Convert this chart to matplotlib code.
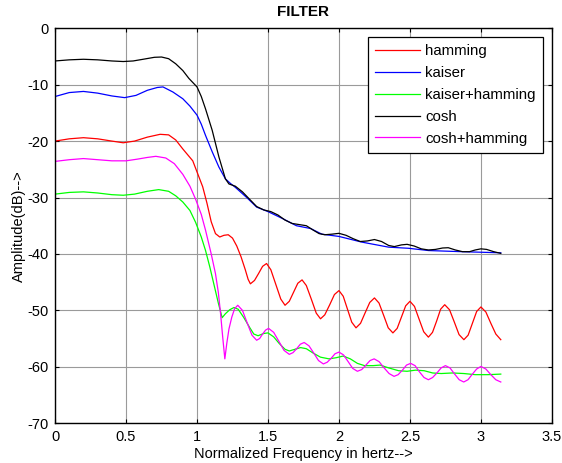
#!/usr/bin/env python3
"""Recreates the FILTER magnitude-response plot (MATLAB style) as out.png."""
import matplotlib
matplotlib.use("Agg")
import matplotlib.pyplot as plt

plt.rcParams["font.family"] = ["Liberation Sans", "DejaVu Sans"]
plt.rcParams["font.size"] = 10.5

# --- values ------------------------------------------------------------------
hamming_x = [0, 0.1, 0.2, 0.3, 0.4, 0.48, 0.56, 0.65, 0.74, 0.8, 0.85, 0.9, 0.97,
             1.04, 1.07, 1.1, 1.13, 1.16, 1.19, 1.22, 1.25, 1.28, 1.31, 1.34, 1.36,
             1.376, 1.405, 1.433, 1.462, 1.49, 1.52, 1.555, 1.59, 1.62, 1.65, 1.68,
             1.71, 1.74, 1.77, 1.805, 1.84, 1.87, 1.9, 1.935, 1.968, 2.0, 2.03, 2.06,
             2.09, 2.12, 2.152, 2.185, 2.217, 2.25, 2.282, 2.315, 2.347, 2.38, 2.41,
             2.44, 2.47, 2.5, 2.532, 2.565, 2.597, 2.63, 2.659, 2.688, 2.716, 2.745,
             2.779, 2.813, 2.846, 2.88, 2.91, 2.94, 2.97, 3.0, 3.035, 3.07, 3.105, 3.14]
hamming_db = [-20.0, -19.6, -19.4, -19.6, -20.0, -20.3, -20.0, -19.3, -18.8, -18.9,
              -19.8, -21.4, -23.5, -28.1, -31.0, -34.3, -36.4, -37.0, -36.7, -36.6,
              -37.2, -38.6, -40.5, -42.8, -44.5, -45.3, -44.7, -43.5, -42.2, -41.7,
              -42.8, -45.4, -48.0, -49.1, -48.4, -46.8, -45.2, -44.6, -45.6, -48.0,
              -50.5, -51.5, -50.8, -49.0, -47.2, -46.5, -47.5, -49.8, -52.1, -53.1,
              -52.3, -50.4, -48.6, -47.8, -48.7, -50.9, -53.1, -54.0, -53.2, -51.2,
              -49.2, -48.4, -49.3, -51.6, -53.8, -54.75, -53.9, -51.9, -49.8, -49.0,
              -49.9, -52.1, -54.3, -55.2, -54.4, -52.3, -50.2, -49.4, -50.3, -52.3,
              -54.2, -55.2]

kaiser_x = [0, 0.1, 0.2, 0.3, 0.4, 0.49, 0.57, 0.65, 0.72, 0.76, 0.83, 0.9, 0.95,
            1.0, 1.03, 1.06, 1.107, 1.154, 1.2, 1.235, 1.27, 1.35, 1.42, 1.5, 1.6,
            1.7, 1.8, 1.88, 2.0, 2.16, 2.35, 2.49, 2.63, 2.86, 3.0, 3.14]
kaiser_db = [-12.1, -11.4, -11.2, -11.5, -12.0, -12.3, -11.9, -11.0, -10.5, -10.4,
             -11.3, -12.5, -13.8, -15.4, -17.0, -19.0, -21.9, -24.6, -26.7, -27.5,
             -28.2, -30.0, -31.7, -32.5, -33.7, -35.0, -35.5, -36.5, -36.9, -37.9,
             -38.8, -39.0, -39.4, -39.6, -39.7, -39.8]

kaiser_hamming_x = [0, 0.1, 0.2, 0.3, 0.4, 0.48, 0.56, 0.65, 0.73, 0.8, 0.85, 0.9,
                    0.95, 0.99, 1.03, 1.06, 1.09, 1.12, 1.15, 1.177, 1.2, 1.23,
                    1.26, 1.29, 1.33, 1.37, 1.4, 1.43, 1.47, 1.5, 1.54, 1.58, 1.62,
                    1.65, 1.69, 1.73, 1.77, 1.82, 1.87, 1.93, 1.98, 2.03, 2.08, 2.13,
                    2.18, 2.24, 2.29, 2.35, 2.42, 2.48, 2.54, 2.6, 2.66, 2.72, 2.8,
                    2.88, 2.96, 3.05, 3.14]
kaiser_hamming_db = [-29.4, -29.1, -29.0, -29.2, -29.5, -29.6, -29.4, -28.9, -28.6,
                     -28.9, -29.7, -30.8, -32.3, -34.4, -37.0, -39.4, -42.3, -45.5,
                     -48.7, -51.3, -50.6, -49.9, -49.5, -49.8, -51.3, -53.0, -54.2,
                     -54.5, -54.1, -54.0, -54.7, -55.9, -56.9, -57.2, -56.9, -56.6,
                     -56.8, -57.6, -58.3, -58.6, -58.4, -58.1, -58.6, -59.4, -59.8,
                     -59.8, -59.7, -60.2, -60.7, -60.8, -60.6, -60.7, -61.1, -61.2,
                     -61.1, -61.2, -61.4, -61.4, -61.3]

cosh_x = [0, 0.1, 0.2, 0.3, 0.4, 0.48, 0.55, 0.62, 0.7, 0.75, 0.8, 0.85, 0.9, 0.943,
          1.0, 1.03, 1.06, 1.107, 1.154, 1.2, 1.225, 1.27, 1.32, 1.37, 1.42, 1.47,
          1.52, 1.57, 1.62, 1.67, 1.72, 1.77, 1.82, 1.86, 1.9, 1.95, 2.0, 2.05, 2.1,
          2.15, 2.2, 2.25, 2.3, 2.35, 2.39, 2.44, 2.48, 2.53, 2.58, 2.63, 2.68, 2.73,
          2.77, 2.82, 2.87, 2.92, 2.96, 3.0, 3.04, 3.09, 3.14]
cosh_db = [-5.8, -5.6, -5.5, -5.6, -5.8, -5.9, -5.8, -5.5, -5.15, -5.1, -5.4, -6.3,
           -7.5, -8.9, -10.4, -12.1, -14.3, -18.1, -22.8, -26.7, -27.6, -28.0, -29.0,
           -30.3, -31.6, -32.2, -32.5, -33.1, -34.0, -34.6, -34.8, -35.0, -35.8,
           -36.4, -36.6, -36.5, -36.35, -36.7, -37.3, -37.8, -37.7, -37.45, -37.8,
           -38.5, -38.7, -38.4, -38.3, -38.6, -39.1, -39.3, -39.2, -38.95, -38.9,
           -39.3, -39.6, -39.6, -39.3, -39.1, -39.2, -39.6, -39.9]

cosh_hamming_x = [0, 0.1, 0.2, 0.3, 0.4, 0.5, 0.58, 0.65, 0.71, 0.78, 0.84, 0.9,
                  0.95, 0.99, 1.03, 1.06, 1.1, 1.13, 1.15, 1.166, 1.18, 1.196, 1.21,
                  1.225, 1.245, 1.265, 1.287, 1.32, 1.353, 1.387, 1.42, 1.441, 1.462,
                  1.483, 1.504, 1.54, 1.577, 1.613, 1.65, 1.676, 1.702, 1.728, 1.755,
                  1.789, 1.823, 1.856, 1.89, 1.917, 1.945, 1.972, 2.0, 2.032, 2.065,
                  2.097, 2.13, 2.16, 2.19, 2.219, 2.248, 2.283, 2.318, 2.353, 2.388,
                  2.417, 2.447, 2.476, 2.505, 2.536, 2.567, 2.599, 2.63, 2.66, 2.69,
                  2.72, 2.75, 2.782, 2.815, 2.847, 2.879, 2.909, 2.94, 2.97, 3.0,
                  3.035, 3.07, 3.105, 3.14]
cosh_hamming_db = [-23.6, -23.3, -23.1, -23.3, -23.5, -23.5, -23.2, -22.9, -22.7,
                   -23.0, -24.0, -25.9, -28.0, -30.3, -33.0, -35.8, -40.0, -43.5,
                   -46.8, -50.6, -54.5, -58.6, -55.8, -53.3, -51.2, -49.7, -49.1,
                   -50.0, -52.2, -54.4, -55.3, -55.0, -54.2, -53.5, -53.2, -53.9,
                   -55.5, -57.1, -57.8, -57.5, -56.8, -56.0, -55.7, -56.3, -57.6,
                   -58.9, -59.5, -59.2, -58.5, -57.7, -57.4, -57.9, -59.1, -60.3,
                   -60.8, -60.5, -59.7, -58.9, -58.6, -59.1, -60.2, -61.2, -61.7,
                   -61.4, -60.6, -59.7, -59.4, -59.8, -60.9, -61.9, -62.3, -61.9,
                   -61.1, -60.2, -59.8, -60.2, -61.3, -62.3, -62.7, -62.3, -61.3,
                   -60.4, -59.95, -60.4, -61.4, -62.3, -62.7]

series = [
    ("hamming", hamming_x, hamming_db, "#ff0000"),
    ("kaiser", kaiser_x, kaiser_db, "#0000ff"),
    ("kaiser+hamming", kaiser_hamming_x, kaiser_hamming_db, "#00ff00"),
    ("cosh", cosh_x, cosh_db, "#000000"),
    ("cosh+hamming", cosh_hamming_x, cosh_hamming_db, "#ff00ff"),
]

x_ticks = [0, 0.5, 1, 1.5, 2, 2.5, 3, 3.5]
x_tick_labels = ["0", "0.5", "1", "1.5", "2", "2.5", "3", "3.5"]
y_ticks = [-70, -60, -50, -40, -30, -20, -10, 0]
y_tick_labels = ["-70", "-60", "-50", "-40", "-30", "-20", "-10", "0"]


def main() -> None:
    fig = plt.figure(figsize=(5.62, 4.63), dpi=100)
    ax = fig.add_axes([0.098, 0.086, 0.884, 0.853])

    for label, xs, ys, color in series:
        ax.plot(xs, ys, color=color, linewidth=0.9, label=label)

    ax.set_xlim(0, 3.5)
    ax.set_ylim(-70, 0)
    ax.set_xticks(x_ticks)
    ax.set_xticklabels(x_tick_labels)
    ax.set_yticks(y_ticks)
    ax.set_yticklabels(y_tick_labels)
    ax.tick_params(direction="in", top=True, right=True, length=3, width=0.8,
                   labelsize=10.5, pad=5)
    ax.grid(True, color="#9a9a9a", linestyle="-", linewidth=0.8)
    ax.set_axisbelow(True)
    for spine in ax.spines.values():
        spine.set_linewidth(1.0)

    ax.set_title("FILTER", fontsize=11, fontweight="bold", pad=9)
    ax.set_xlabel("Normalized Frequency in hertz-->", labelpad=2)
    ax.set_ylabel("Amplitude(dB)-->", labelpad=1)

    leg = ax.legend(loc="upper right", bbox_to_anchor=(0.983, 0.978), fancybox=False,
                    framealpha=1, edgecolor="black", handlelength=3.0,
                    borderpad=0.5, labelspacing=0.52, handletextpad=0.35,
                    borderaxespad=0, fontsize=10.8)
    leg.get_frame().set_linewidth(0.9)

    fig.savefig("out.png", dpi=100)
    plt.close(fig)


if __name__ == "__main__":
    main()
